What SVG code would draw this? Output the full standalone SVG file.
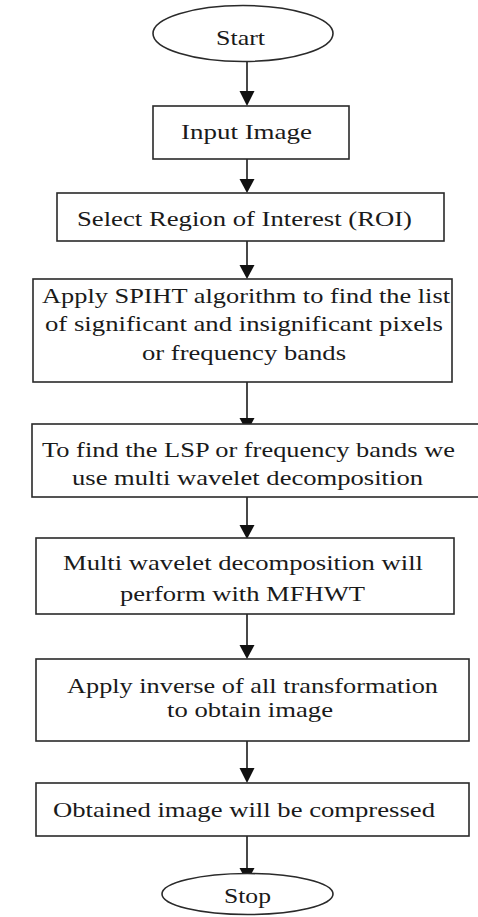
<svg xmlns="http://www.w3.org/2000/svg" width="478" height="917" viewBox="0 0 478 917">
<style>
.box{fill:#fff;stroke:#2a2a2a;stroke-width:1.6}
.con{stroke:#1a1a1a;stroke-width:1.6;fill:none}
.head{fill:#111}
text{font-family:"Liberation Serif","DejaVu Serif",serif;font-size:22px;fill:#1a1a1a}
</style>
<rect width="478" height="917" fill="#fff"/>
<g id="connectors">
<line class="con" x1="247" y1="61" x2="247" y2="92"/><polygon class="head" points="239.5,91 254.5,91 247,106"/>
<line class="con" x1="247" y1="159" x2="247" y2="180"/><polygon class="head" points="239.5,179 254.5,179 247,193"/>
<line class="con" x1="247" y1="241" x2="247" y2="266"/><polygon class="head" points="239.5,265 254.5,265 247,279"/>
<line class="con" x1="247" y1="382" x2="247" y2="419"/><polygon class="head" points="239.5,418 254.5,418 247,432"/>
<line class="con" x1="247" y1="497" x2="247" y2="526"/><polygon class="head" points="239.5,525 254.5,525 247,539"/>
<line class="con" x1="247" y1="614" x2="247" y2="646"/><polygon class="head" points="239.5,645 254.5,645 247,659"/>
<line class="con" x1="247" y1="741" x2="247" y2="769"/><polygon class="head" points="239.5,768 254.5,768 247,783"/>
<line class="con" x1="247" y1="836" x2="247" y2="869"/><polygon class="head" points="239.5,868 254.5,868 247,882"/>
</g>
<g id="start"><ellipse class="box" cx="243" cy="33.5" rx="90" ry="28"/><text x="216" y="45" textLength="49" lengthAdjust="spacingAndGlyphs">Start</text></g>
<g id="input"><rect class="box" x="153" y="106" width="196" height="53"/><text x="181" y="139" textLength="131" lengthAdjust="spacingAndGlyphs">Input Image</text></g>
<g id="roi"><rect class="box" x="57" y="193" width="387" height="48"/><text x="77" y="226" textLength="335" lengthAdjust="spacingAndGlyphs">Select Region of Interest (ROI)</text></g>
<g id="spiht"><rect class="box" x="33" y="279" width="419" height="103"/>
<text x="42" y="303" textLength="408" lengthAdjust="spacingAndGlyphs">Apply SPIHT algorithm to find the list</text>
<text x="45" y="331" textLength="398" lengthAdjust="spacingAndGlyphs">of significant and insignificant pixels</text>
<text x="142" y="360" textLength="204" lengthAdjust="spacingAndGlyphs">or frequency bands</text></g>
<g id="lsp"><rect class="box" x="32" y="424" width="448" height="73"/>
<text x="42" y="457" textLength="413" lengthAdjust="spacingAndGlyphs">To find the LSP or frequency bands we</text>
<text x="72" y="485" textLength="351" lengthAdjust="spacingAndGlyphs">use multi wavelet decomposition</text></g>
<g id="mfhwt"><rect class="box" x="36" y="538" width="418" height="76"/>
<text x="63" y="570" textLength="360" lengthAdjust="spacingAndGlyphs">Multi wavelet decomposition will</text>
<text x="120" y="601" textLength="245" lengthAdjust="spacingAndGlyphs">perform with MFHWT</text></g>
<g id="inverse"><rect class="box" x="36" y="659" width="433" height="82"/>
<text x="67" y="693" textLength="371" lengthAdjust="spacingAndGlyphs">Apply inverse of all transformation</text>
<text x="167" y="717" textLength="166" lengthAdjust="spacingAndGlyphs">to obtain image</text></g>
<g id="compressed"><rect class="box" x="36" y="783" width="433" height="53"/>
<text x="53" y="817" textLength="382" lengthAdjust="spacingAndGlyphs">Obtained image will be compressed</text></g>
<g id="stop"><ellipse class="box" cx="247.5" cy="894" rx="85.5" ry="20.5"/><text x="224" y="903" textLength="47" lengthAdjust="spacingAndGlyphs">Stop</text></g>
</svg>
